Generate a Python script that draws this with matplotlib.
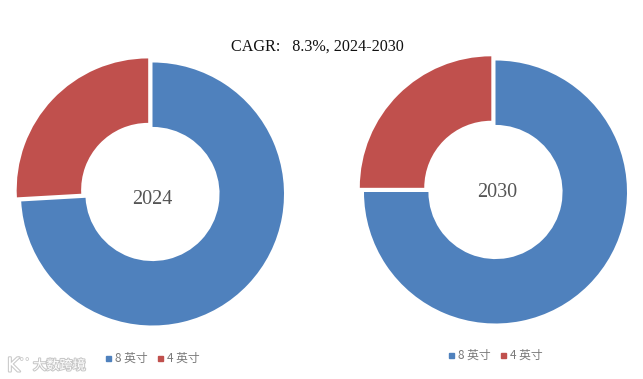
import matplotlib
matplotlib.use('Agg')
import matplotlib.pyplot as plt
import matplotlib.patheffects as pe

W, H = 643, 379

# share of each size
labels = ['8 英寸', '4 英寸']
share_2024 = [74.1, 25.9]
share_2030 = [75.0, 25.0]
colors = ['#4F81BD', '#C0504D']


def donut(cx, cy, values, year, year_x, year_y):
    # pie() keeps limits of +-1.25, so the axes is 1.25 radii wide each side
    half = 131.5 * 1.25
    ax = fig.add_axes([(cx - half) / W, 1 - (cy + half) / H, 2 * half / W, 2 * half / H])
    ax.pie(values, colors=colors, startangle=90, counterclock=False, explode=[0, 0.045],
           wedgeprops={'width': 0.49, 'linewidth': 0})
    ax.set_xlim(-1.25, 1.25)
    ax.set_ylim(-1.25, 1.25)
    ax.axis('off')
    fig.text(year_x / W, 1 - year_y / H, year, ha='center', va='center', fontsize=14.5,
             family='Liberation Serif', color='#555555')


def legend(x, y):
    # small square swatches with the size names next to them
    for i, name in enumerate(labels):
        x0 = x + i * 52
        fig.patches.append(plt.Rectangle((x0 / W, 1 - (y + 2.5) / H), 5 / W, 5 / H,
                                         color=colors[i], transform=fig.transFigure))
        fig.text((x0 + 9) / W, 1 - y / H, name, ha='left', va='center', fontsize=8.5,
                 family=['Noto Sans CJK SC', 'DejaVu Sans'], color='#7a7a7a')


fig = plt.figure(figsize=(W / 100, H / 100), dpi=100, facecolor='white')

donut(152.5, 194, share_2024, '2024', 152.5, 199)
donut(495.5, 192, share_2030, '2030', 497, 192.5)

fig.text(317.5 / W, 1 - 46.5 / H, 'CAGR:   8.3%, 2024-2030', ha='center', va='center',
         fontsize=11.6, family='Liberation Serif', color='#111111')

legend(106, 358.5)
legend(449, 355.5)

# faint watermark, bottom left
fig.text(7 / W, 1 - 366 / H, 'K', ha='left', va='center', fontsize=14, color='white',
         path_effects=[pe.withStroke(linewidth=1.5, foreground='#c8c8c8')])
fig.text(19 / W, 1 - 362 / H, '°°', ha='left', va='center', fontsize=8, color='#c8c8c8')
fig.text(33 / W, 1 - 366 / H, '大数跨境', ha='left', va='center', fontsize=9.5, color='white',
         family=['Noto Sans CJK SC', 'DejaVu Sans'],
         path_effects=[pe.withStroke(linewidth=1.5, foreground='#c8c8c8')])

fig.savefig('out.png', dpi=100)
